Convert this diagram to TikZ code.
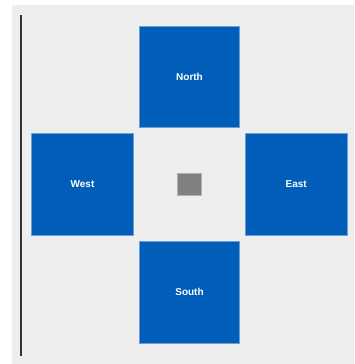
\documentclass[tikz,border=0pt]{standalone}
\usepackage{fontspec}
\setmainfont{Liberation Sans}
\definecolor{bgc}{HTML}{EEEEEE}
\definecolor{boxc}{HTML}{005EB8}
\definecolor{boxb}{HTML}{6A9FD8}
\definecolor{ctrc}{HTML}{808080}
\definecolor{ctrb}{HTML}{B0B0B0}
\definecolor{linec}{HTML}{333333}
\begin{document}
\begin{tikzpicture}[x=1pt,y=-1pt,
  dirbox/.style={rectangle, fill=boxc, draw=boxb, line width=0.6pt, inner sep=0pt,
    text=white, font=\bfseries\fontsize{10}{12}\selectfont},
  ctrbox/.style={rectangle, fill=ctrc, draw=ctrb, line width=0.6pt, inner sep=0pt,
    minimum width=24pt, minimum height=22pt}]
\useasboundingbox (0,0) rectangle (354,364);
\fill[white] (0,0) rectangle (354,364);
\fill[bgc] (12,5) rectangle (354,364);
\coordinate (ltop) at (21,15);
\coordinate (lbot) at (21,356);
\draw[linec, line width=1.8pt] (ltop) -- (lbot);
\node[dirbox, minimum width=100pt, minimum height=101pt] (north) at (189.5,77) {North};
\node[dirbox, minimum width=102pt, minimum height=102pt] (west) at (82.5,184.3) {West};
\node[dirbox, minimum width=102pt, minimum height=102pt] (east) at (296.2,184.3) {East};
\node[dirbox, minimum width=100pt, minimum height=102pt] (south) at (189.5,292.2) {South};
\node[ctrbox] (center) at (189.3,184.3) {};
\end{tikzpicture}
\end{document}
